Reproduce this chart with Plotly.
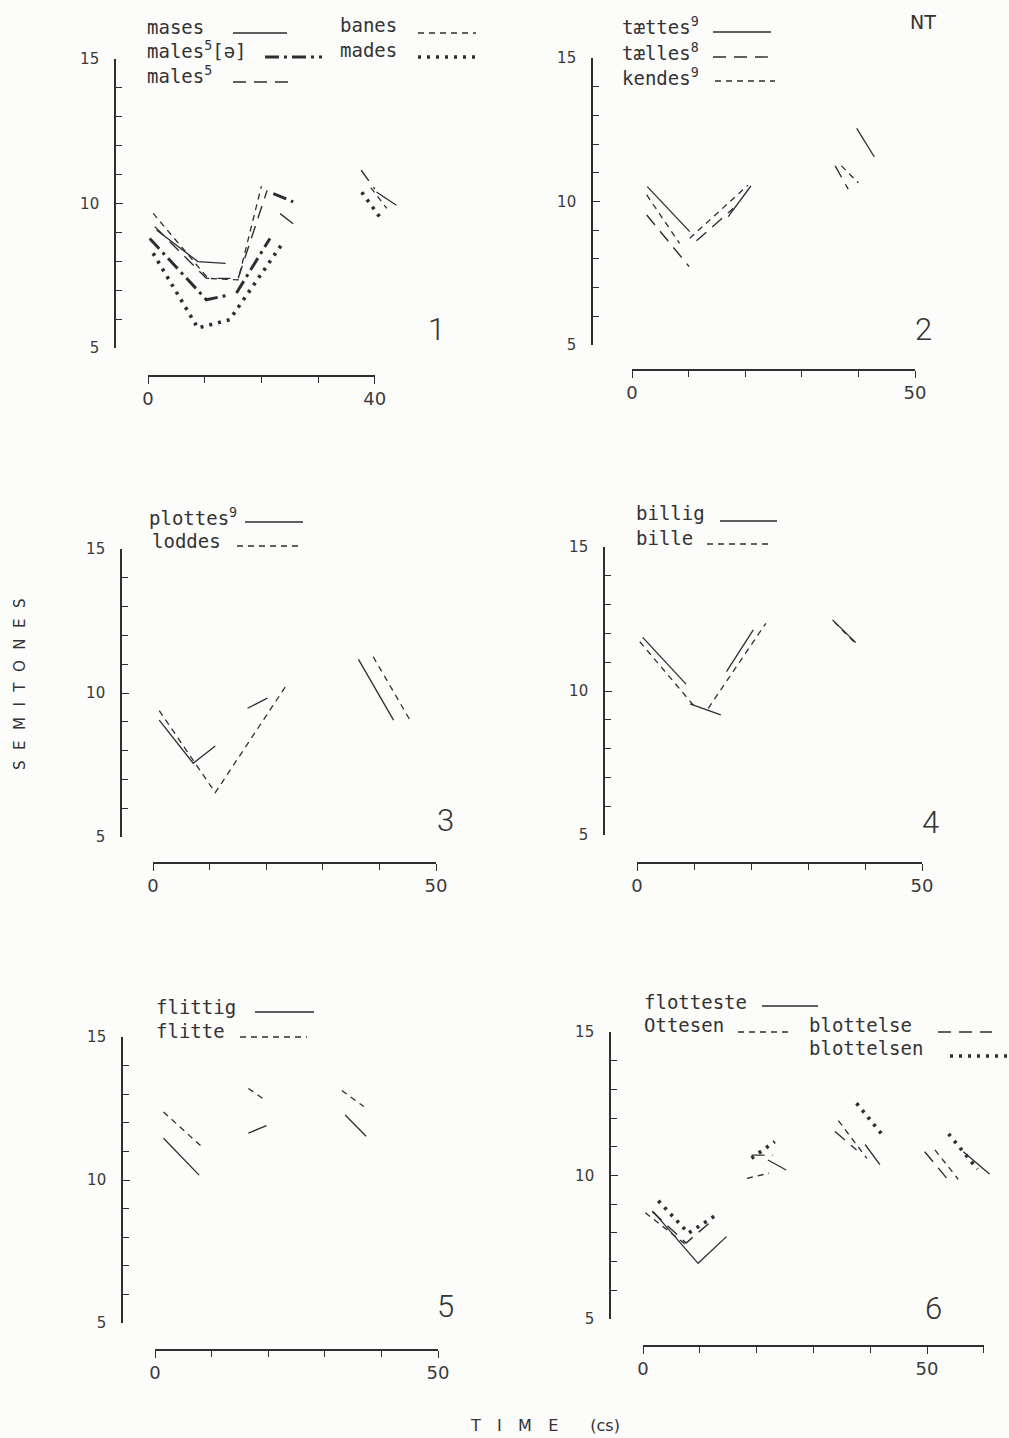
import plotly.graph_objects as go

W, H = 1009, 1438
INK = "#2e2e2e"
BG = "#fcfcfb"
MONO = "DejaVu Sans Mono"
SANS = "DejaVu Sans"

# ---------------- data: time (cs) and pitch (semitones) ----------------
# Panel 1
P1_MASES_T = [1.5, 8.8, 13.7, None, 23.3, 25.6, None, 40.3, 43.8]
P1_MASES_V = [9.08, 7.99, 7.93, None, 9.65, 9.3, None, 10.4, 9.94]
P1_BANES_T = [0.9, 10.6, 15.9, 20.0, None, 39.3, 42.1]
P1_BANES_V = [9.66, 7.41, 7.36, 10.6, None, 10.55, 9.83]
P1_MALES5E_T = [0.3, 10.3, 14.4, None, 15.6, 21.5, None, 22.1, 25.6]
P1_MALES5E_V = [8.79, 6.67, 6.84, None, 6.9, 8.79, None, 10.34, 10.06]
P1_MADES_T = [0.9, 8.8, 14.4, 23.5, None, 37.7, 41.4]
P1_MADES_V = [8.28, 5.69, 5.98, 8.56, None, 10.39, 9.39]
P1_MALES5_T = [1.2, 10.3, 15.9, 21.0, None, 37.6, 40.0]
P1_MALES5_V = [9.2, 7.41, 7.41, 10.45, None, 11.15, 10.5]

# Panel 2
P2_TAETTES_T = [2.7, 10.2, None, 17.0, 21.0, None, 39.7, 42.8]
P2_TAETTES_V = [10.52, 8.95, None, 9.47, 10.54, None, 12.55, 11.56]
P2_TAELLES_T = [2.6, 10.1, None, 11.4, 17.9, None, 35.9, 38.2]
P2_TAELLES_V = [9.53, 7.73, None, 8.63, 9.76, None, 11.24, 10.43]
P2_KENDES_T = [2.6, 8.4, None, 10.2, 20.5, None, 37.0, 40.0]
P2_KENDES_V = [10.23, 8.54, None, 8.72, 10.57, None, 11.24, 10.65]

# Panel 3
P3_PLOTTES_T = [1.1, 7.1, 11.0, None, 16.7, 20.2, None, 36.3, 42.5]
P3_PLOTTES_V = [9.06, 7.56, 8.16, None, 9.47, 9.82, None, 11.17, 9.06]
P3_LODDES_T = [1.1, 11.0, 23.6, None, 38.9, 45.4]
P3_LODDES_V = [9.39, 6.54, 10.28, None, 11.26, 9.06]

# Panel 4
P4_BILLIG_T = [1.0, 8.6, None, 9.3, 14.7, None, 15.7, 20.4, None, 34.3, 38.4]
P4_BILLIG_V = [11.86, 10.24, None, 9.55, 9.17, None, 10.67, 12.12, None, 12.47, 11.68]
P4_BILLE_T = [0.5, 9.9, None, 12.5, 22.6, None, 34.6, 38.6]
P4_BILLE_V = [11.71, 9.51, None, 9.4, 12.35, None, 12.4, 11.6]

# Panel 5
P5_FLITTIG_T = [1.5, 7.8, None, 16.5, 19.7, None, 33.6, 37.3]
P5_FLITTIG_V = [11.46, 10.17, None, 11.64, 11.9, None, 12.27, 11.53]
P5_FLITTE_T = [1.5, 8.5, None, 16.5, 19.7, None, 33.0, 36.9]
P5_FLITTE_V = [12.38, 11.12, None, 13.2, 12.76, None, 13.13, 12.57]

# Panel 6
P6_FLOTTESTE_T = [1.8, 9.7, 14.7, None, 22.0, 25.2, None, 39.1, 41.7, None, 56.4, 61.0]
P6_FLOTTESTE_V = [8.74, 6.94, 7.87, None, 10.54, 10.19, None, 11.08, 10.38, None, 10.83, 10.05]
P6_OTTESEN_T = [0.4, 7.5, None, 18.3, 22.2, None, 34.4, 39.4, None, 51.4, 55.5]
P6_OTTESEN_V = [8.7, 7.6, None, 9.9, 10.08, None, 11.91, 10.6, None, 10.89, 9.87]
P6_BLOTTELSE_T = [1.6, 7.6, 12.3, None, 19.1, 22.9, None, 33.8, 37.6, None, 49.6, 53.5]
P6_BLOTTELSE_V = [8.75, 7.65, 8.45, None, 10.71, 10.71, None, 11.53, 10.89, None, 10.83, 9.9]
P6_BLOTTELSEN_T = [2.7, 8.0, 13.3, None, 19.1, 23.2, None, 37.6, 42.6, None, 53.8, 58.9]
P6_BLOTTELSEN_V = [9.12, 7.99, 8.68, None, 10.6, 11.18, None, 12.52, 11.3, None, 11.45, 10.22]

Y_LABELLED = [5, 10, 15]
Y_MINOR = [6, 7, 8, 9, 11, 12, 13, 14]

# ---------------- line styles ----------------
STYLES = {
    "solid": dict(width=1.3, dash="solid"),
    "short": dict(width=1.3, dash="6px,5px"),
    "long": dict(width=1.4, dash="13px,8px"),
    "dashdot": dict(width=3.0, dash="14px,5px,3px,5px"),
    "dots": dict(width=3.6, dash="3px,6px"),
}

# ---------------- panel geometry (pixels) ----------------
# ax: x of the value axis, x0: pixel of t=0, s: pixels per cs,
# y15 / y5: pixels of 15 and 5 semitones, xa: y of the time axis, xend: last tick
PANELS = [
    dict(ax=116, x0=148, s=5.67, y15=59, y5=348, xa=376, xend=40, lab=40, right=480, num="1", nx=436, ny=330),
    dict(ax=593, x0=632, s=5.66, y15=58, y5=345, xa=370, xend=50, lab=50, right=1000, num="2", nx=923, ny=330),
    dict(ax=122, x0=153, s=5.66, y15=549, y5=837, xa=863, xend=50, lab=50, right=480, num="3", nx=445, ny=820),
    dict(ax=605, x0=637, s=5.70, y15=547, y5=835, xa=863, xend=50, lab=50, right=1000, num="4", nx=930, ny=822),
    dict(ax=123, x0=155, s=5.66, y15=1037, y5=1323, xa=1350, xend=50, lab=50, right=480, num="5", nx=445, ny=1306),
    dict(ax=611, x0=643, s=5.68, y15=1032, y5=1319, xa=1346, xend=60, lab=50, right=1006, num="6", nx=933, ny=1308),
]

SERIES = [
    (1, P1_MASES_T, P1_MASES_V, "solid"),
    (1, P1_BANES_T, P1_BANES_V, "short"),
    (1, P1_MALES5E_T, P1_MALES5E_V, "dashdot"),
    (1, P1_MADES_T, P1_MADES_V, "dots"),
    (1, P1_MALES5_T, P1_MALES5_V, "long"),
    (2, P2_TAETTES_T, P2_TAETTES_V, "solid"),
    (2, P2_TAELLES_T, P2_TAELLES_V, "long"),
    (2, P2_KENDES_T, P2_KENDES_V, "short"),
    (3, P3_PLOTTES_T, P3_PLOTTES_V, "solid"),
    (3, P3_LODDES_T, P3_LODDES_V, "short"),
    (4, P4_BILLIG_T, P4_BILLIG_V, "solid"),
    (4, P4_BILLE_T, P4_BILLE_V, "short"),
    (5, P5_FLITTIG_T, P5_FLITTIG_V, "solid"),
    (5, P5_FLITTE_T, P5_FLITTE_V, "short"),
    (6, P6_FLOTTESTE_T, P6_FLOTTESTE_V, "solid"),
    (6, P6_OTTESEN_T, P6_OTTESEN_V, "short"),
    (6, P6_BLOTTELSE_T, P6_BLOTTELSE_V, "long"),
    (6, P6_BLOTTELSEN_T, P6_BLOTTELSEN_V, "dots"),
]

# legend entries: (label, text x, text y, sample x from, sample x to, sample y, style)
LEGEND = [
    ("mases", 145, 27, 233, 287, 33, "solid"),
    ("banes", 338, 25, 418, 476, 33, "short"),
    ("males<sup>5</sup>[ə]", 145, 50, 265, 322, 57, "dashdot"),
    ("mades", 338, 50, 418, 476, 57, "dots"),
    ("males<sup>5</sup>", 145, 75, 233, 291, 82, "long"),
    ("tættes<sup>9</sup>", 620, 26, 713, 771, 32, "solid"),
    ("tælles<sup>8</sup>", 620, 52, 713, 773, 57, "long"),
    ("kendes<sup>9</sup>", 620, 77, 715, 775, 81, "short"),
    ("plottes<sup>9</sup>", 147, 517, 245, 303, 522, "solid"),
    ("loddes", 150, 541, 237, 300, 546, "short"),
    ("billig", 634, 513, 720, 777, 521, "solid"),
    ("bille", 634, 538, 707, 770, 544, "short"),
    ("flittig", 154, 1007, 255, 314, 1012, "solid"),
    ("flitte", 154, 1031, 240, 307, 1037, "short"),
    ("flotteste", 642, 1002, 762, 818, 1006, "solid"),
    ("Ottesen", 642, 1025, 738, 790, 1032, "short"),
    ("blottelse", 807, 1025, 938, 992, 1032, "long"),
    ("blottelsen", 807, 1048, 950, 1008, 1056, "dots"),
]


def px(x):
    return x / W


def py(y):
    return 1 - y / H


fig = go.Figure()
layout = dict(
    width=W, height=H,
    margin=dict(l=0, r=0, t=0, b=0, autoexpand=False),
    paper_bgcolor=BG, plot_bgcolor="rgba(0,0,0,0)",
    showlegend=False,
    annotations=[], shapes=[],
)

for k, p in enumerate(PANELS, start=1):
    sfx = "" if k == 1 else str(k)
    tx = 6 + k
    # plotting axis for the curves (hidden), shares its pixel scale with the drawn time axis
    layout["xaxis" + sfx] = dict(
        domain=[px(p["ax"]), px(p["right"])],
        range=[(p["ax"] - p["x0"]) / p["s"], (p["right"] - p["x0"]) / p["s"]],
        visible=False, anchor="y" + sfx, fixedrange=True,
    )
    layout["yaxis" + sfx] = dict(
        domain=[py(p["y5"]), py(p["y15"])], range=[5, 15], anchor="x" + sfx,
        showline=True, linecolor=INK, linewidth=1.6, mirror=False,
        showgrid=False, zeroline=False,
        tickmode="array", tickvals=Y_LABELLED, ticktext=[str(v) for v in Y_LABELLED],
        ticks="inside", ticklen=7, tickwidth=1.4, tickcolor=INK,
        minor=dict(tickmode="array", tickvals=Y_MINOR, ticks="inside",
                   ticklen=6, tickwidth=1.3, tickcolor=INK, showgrid=False),
        ticklabelstandoff=12,
        tickfont=dict(family=SANS, size=15, color="#3a3a3a"),
        fixedrange=True,
    )
    # detached time axis below the panel
    x_minor = [v for v in range(10, p["xend"] + 1, 10) if v != p["lab"]]
    layout["xaxis" + str(tx)] = dict(
        domain=[px(p["x0"]), px(p["x0"] + p["xend"] * p["s"])],
        range=[0, p["xend"]], anchor="free", position=py(p["xa"]),
        showline=True, linecolor=INK, linewidth=1.6,
        showgrid=False, zeroline=False,
        tickmode="array", tickvals=[0, p["lab"]], ticktext=["0", str(p["lab"])],
        ticks="outside", ticklen=7, tickwidth=1.4, tickcolor=INK,
        minor=dict(tickmode="array", tickvals=x_minor, ticks="outside",
                   ticklen=6, tickwidth=1.3, tickcolor=INK, showgrid=False),
        tickfont=dict(family=SANS, size=18, color="#3a3a3a"),
        fixedrange=True,
    )
    fig.add_trace(go.Scatter(
        x=[0, p["xend"]], y=[None, None], mode="lines",
        xaxis="x" + str(tx), yaxis="y" + sfx, hoverinfo="skip",
    ))
    layout["annotations"].append(dict(
        text=p["num"], x=px(p["nx"]), y=py(p["ny"]), xref="paper", yref="paper",
        showarrow=False, xanchor="center", yanchor="middle",
        font=dict(family="Roboto", size=31, color="#333", weight=300),
    ))

for k, t, v, st in SERIES:
    sfx = "" if k == 1 else str(k)
    fig.add_trace(go.Scatter(
        x=t, y=v, mode="lines", connectgaps=False,
        line=dict(color=INK, **STYLES[st]),
        xaxis="x" + sfx, yaxis="y" + sfx, hoverinfo="skip",
    ))

for label, lx, ly, sx0, sx1, sy, st in LEGEND:
    layout["annotations"].append(dict(
        text=label, x=px(lx), y=py(ly), xref="paper", yref="paper",
        showarrow=False, xanchor="left", yanchor="middle",
        font=dict(family=MONO, size=19, color="#333"),
    ))
    layout["shapes"].append(dict(
        type="line", xref="paper", yref="paper",
        x0=px(sx0), x1=px(sx1), y0=py(sy), y1=py(sy),
        line=dict(color=INK, width=STYLES[st]["width"], dash=STYLES[st]["dash"]),
    ))

layout["annotations"] += [
    dict(text="NT", x=px(923), y=py(22), xref="paper", yref="paper", showarrow=False,
         xanchor="center", yanchor="middle", font=dict(family=SANS, size=19, color="#333")),
    dict(text="S\u2002\u2009E\u2002\u2009M\u2002\u2009I\u2002\u2009T\u2002\u2009O\u2002\u2009N\u2002\u2009E\u2002\u2009S",
         x=px(20), y=py(684), xref="paper", yref="paper", showarrow=False, textangle=-90,
         xanchor="center", yanchor="middle", font=dict(family=SANS, size=15, color="#333")),
    dict(text="T\u2002\u2009 I\u2002\u2009 M\u2002\u2009 E\u2003\u2003(cs)",
         x=px(545), y=py(1425), xref="paper", yref="paper", showarrow=False,
         xanchor="center", yanchor="middle", font=dict(family=SANS, size=16, color="#333")),
]

fig.update_layout(**layout)
fig.write_html(
    "out.html",
    config={"displayModeBar": False, "responsive": False},
    post_script="document.body.style.margin='0';document.body.style.overflow='hidden';",
)
